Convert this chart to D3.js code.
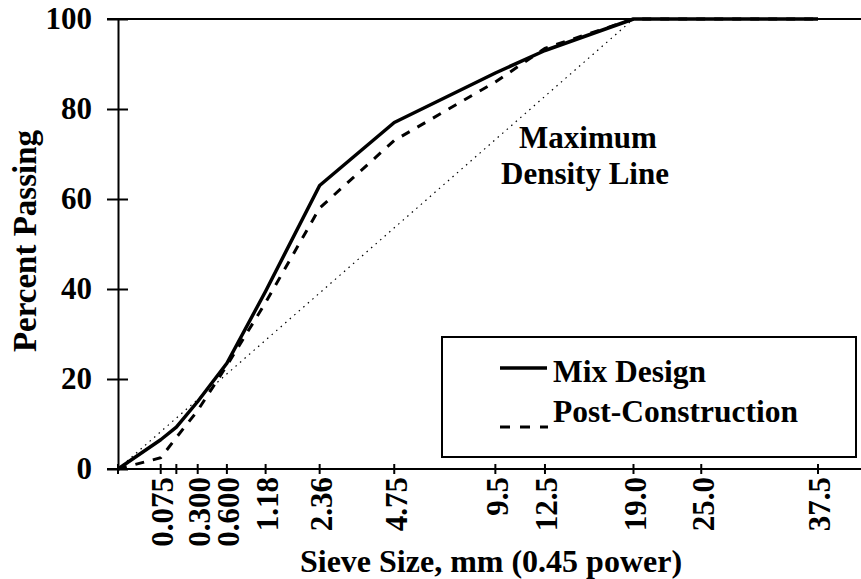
<!DOCTYPE html>
<html><head><meta charset="utf-8">
<script src="https://cdn.jsdelivr.net/npm/d3@7"></script>
<style>body{margin:0;background:#fff}svg{display:block}</style>
</head><body>
<svg id="c" width="861" height="579"></svg>
<script>
// Data
const sieveSizes = [0, 0.075, 0.15, 0.3, 0.6, 1.18, 2.36, 4.75, 9.5, 12.5, 19.0, 25.0, 37.5];
const mixDesign = [0, 6.5, 9.3, 15, 23.5, 39.5, 63, 77, 88, 93, 100, 100, 100];
const postConstruction = [0, 2.5, 7, 13, 23, 37, 58, 73, 86, 93.5, 100, 100, 100];
const maxDensitySizes = [0, 19.0];
const maxDensityValues = [0, 100];
const xTickValues = [0, 0.075, 0.15, 0.3, 0.6, 1.18, 2.36, 4.75, 9.5, 12.5, 19.0, 25.0, 37.5];
const xTickLabels = ["", "0.075", "", "0.300", "0.600", "1.18", "2.36", "4.75", "9.5", "12.5", "19.0", "25.0", "37.5"];
const yTickValues = [0, 20, 40, 60, 80, 100];

const FONT = "'Liberation Serif', 'Times New Roman', serif";
const svg = d3.select("#c");
const x = d3.scalePow().exponent(0.45).domain([0, 37.5]).range([118, 818]);
const y = d3.scaleLinear().domain([0, 100]).range([469, 19]);

// horizontal frame lines
svg.append("line").attr("x1", 107).attr("x2", 861).attr("y1", y(100)).attr("y2", y(100))
  .attr("stroke", "#000").attr("stroke-width", 2);
svg.append("line").attr("x1", 107).attr("x2", 861).attr("y1", y(0)).attr("y2", y(0))
  .attr("stroke", "#000").attr("stroke-width", 2);

// y axis
const yAxis = d3.axisLeft(y).tickValues(yTickValues).tickSize(0).tickPadding(26);
const gy = svg.append("g").attr("transform", "translate(118,0)").call(yAxis);
gy.select(".domain").attr("stroke", "#000").attr("stroke-width", 2);
gy.selectAll("text").attr("font-family", FONT).attr("font-weight", "bold").attr("font-size", 31).attr("fill", "#000");
gy.selectAll(".tick").append("line").attr("x1", -11).attr("x2", 10).attr("stroke", "#000").attr("stroke-width", 2);

// x axis ticks
const gx = svg.append("g");
gx.selectAll("line.t").data(xTickValues).join("line").attr("class", "t")
  .attr("x1", d => x(d)).attr("x2", d => x(d)).attr("y1", 464).attr("y2", 474)
  .attr("stroke", "#000").attr("stroke-width", 2);
gx.selectAll("text").data(xTickValues).join("text")
  .attr("transform", d => `translate(${x(d)},477) rotate(-90)`)
  .attr("text-anchor", "end").attr("dy", "0.4em")
  .attr("font-family", FONT).attr("font-weight", "bold").attr("font-size", 31)
  .text((d, i) => xTickLabels[i]);

// lines
const line = d3.line().x(d => x(d[0])).y(d => y(d[1]));
svg.append("path").datum(maxDensitySizes.map((s, i) => [s, maxDensityValues[i]]))
  .attr("d", line).attr("fill", "none").attr("stroke", "#000").attr("stroke-width", 1.2)
  .attr("stroke-dasharray", "1.5,4.5");
svg.append("path").datum(sieveSizes.map((s, i) => [s, postConstruction[i]]))
  .attr("d", line).attr("fill", "none").attr("stroke", "#000").attr("stroke-width", 3)
  .attr("stroke-dasharray", "9,9");
svg.append("path").datum(sieveSizes.map((s, i) => [s, mixDesign[i]]))
  .attr("d", line).attr("fill", "none").attr("stroke", "#000").attr("stroke-width", 3.5)
  .attr("stroke-linejoin", "round");

// annotation
const ann = svg.append("text").attr("font-family", FONT).attr("font-weight", "bold").attr("font-size", 31)
  .attr("text-anchor", "middle");
ann.append("tspan").attr("x", 588).attr("y", 148).text("Maximum");
ann.append("tspan").attr("x", 585).attr("y", 184).text("Density Line");

// legend
const lg = svg.append("g");
lg.append("rect").attr("x", 442).attr("y", 337).attr("width", 414).attr("height", 120)
  .attr("fill", "#fff").attr("stroke", "#000").attr("stroke-width", 2);
lg.append("line").attr("x1", 500).attr("x2", 547).attr("y1", 368).attr("y2", 368)
  .attr("stroke", "#000").attr("stroke-width", 3.5);
lg.append("line").attr("x1", 500).attr("x2", 548).attr("y1", 427).attr("y2", 427)
  .attr("stroke", "#000").attr("stroke-width", 3).attr("stroke-dasharray", "10,10");
lg.append("text").attr("x", 553).attr("y", 382).attr("font-family", FONT).attr("font-weight", "bold")
  .attr("font-size", 31.5).text("Mix Design");
lg.append("text").attr("x", 553).attr("y", 422).attr("font-family", FONT).attr("font-weight", "bold")
  .attr("font-size", 31.5).text("Post-Construction");

// axis titles
svg.append("text").attr("x", 491).attr("y", 572).attr("text-anchor", "middle")
  .attr("font-family", FONT).attr("font-weight", "bold").attr("font-size", 32).text("Sieve Size, mm (0.45 power)");
svg.append("text").attr("transform", "translate(36,241) rotate(-90)").attr("text-anchor", "middle")
  .attr("font-family", FONT).attr("font-weight", "bold").attr("font-size", 33).text("Percent Passing");
</script>
</body></html>
